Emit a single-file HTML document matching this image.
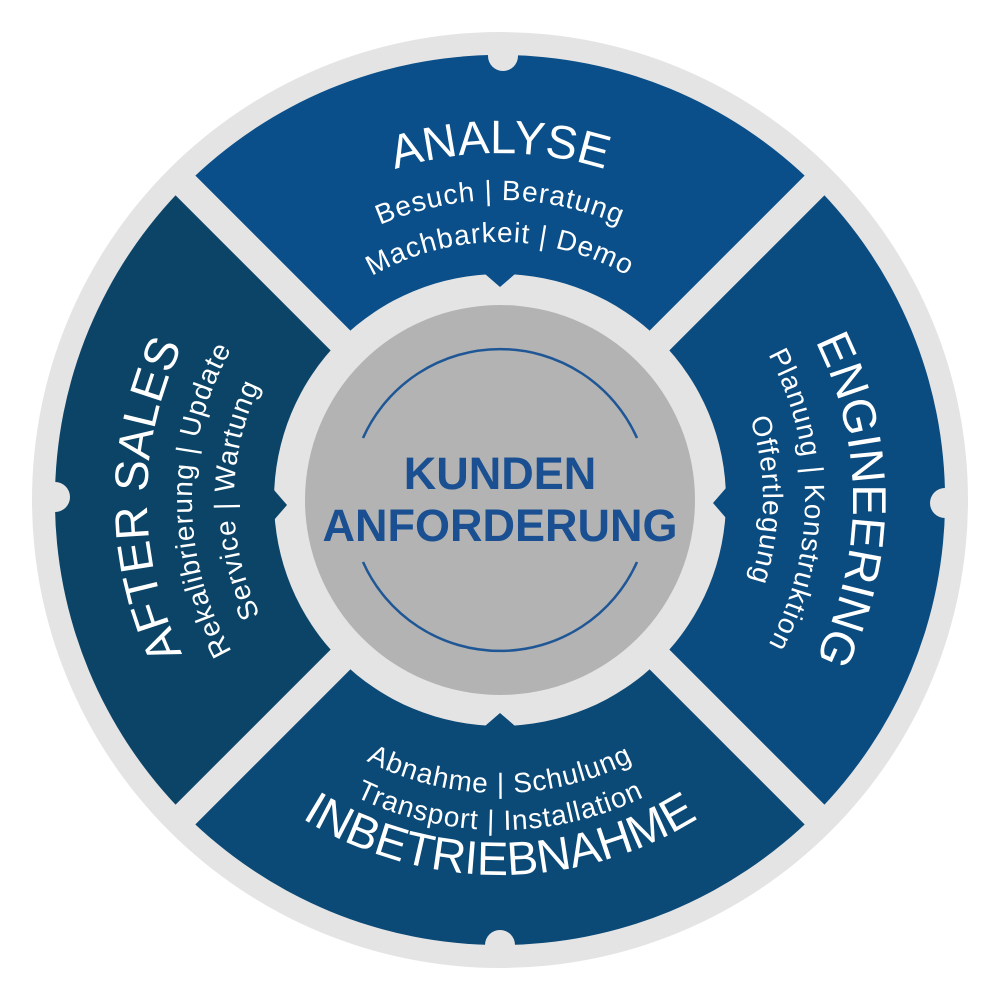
<!DOCTYPE html>
<html><head><meta charset="utf-8"><style>
html,body{margin:0;padding:0;background:#fff;width:1000px;height:1000px;overflow:hidden}
svg{display:block}
text{font-family:"Liberation Sans",Arial,sans-serif;fill:#fff}
.t{font-size:47px}
.s{font-size:28px;letter-spacing:1px}
</style></head><body>
<svg width="1000" height="1000" viewBox="0 0 1000 1000" xmlns="http://www.w3.org/2000/svg">
<defs>
<path id="top347" d="M153,500 A347,347 0 0 1 847,500"/>
<path id="top300" d="M200,500 A300,300 0 0 1 800,500"/>
<path id="top258" d="M242,500 A258,258 0 0 1 758,500"/>
<path id="r353" d="M500,147 A353,353 0 0 1 500,853"/>
<path id="r305" d="M500,195 A305,305 0 0 1 500,805"/>
<path id="r263" d="M500,237 A263,263 0 0 1 500,763"/>
<path id="l353" d="M500,853 A353,353 0 0 1 500,147"/>
<path id="l308" d="M500,808 A308,308 0 0 1 500,192"/>
<path id="l266" d="M500,766 A266,266 0 0 1 500,234"/>
<path id="b293" d="M207,500 A293,293 0 0 0 793,500"/>
<path id="b330" d="M170,500 A330,330 0 0 0 830,500"/>
<path id="b375" d="M125,500 A375,375 0 0 0 875,500"/>
</defs>
<circle cx="500" cy="500" r="468" fill="#e4e4e4"/>
<path d="M185.3,185.3 A445,445 0 0 1 814.7,185.3 L500,500 Z" fill="#0a4f89"/>
<path d="M814.7,185.3 A445,445 0 0 1 814.7,814.7 L500,500 Z" fill="#0a4b80"/>
<path d="M814.7,814.7 A445,445 0 0 1 185.3,814.7 L500,500 Z" fill="#0b4976"/>
<path d="M185.3,814.7 A445,445 0 0 1 185.3,185.3 L500,500 Z" fill="#0b4467"/>
<line x1="172" y1="172" x2="828" y2="828" stroke="#e4e4e4" stroke-width="28"/>
<line x1="828" y1="172" x2="172" y2="828" stroke="#e4e4e4" stroke-width="28"/>
<circle cx="500" cy="500" r="226" fill="#e4e4e4"/>
<polygon points="485,274 515,274 500,287" fill="#0a4f89"/>
<polygon points="726,488 726,518 713,503" fill="#0a4b80"/>
<polygon points="485,726 515,726 500,713" fill="#0b4976"/>
<polygon points="274,490 274,520 287,505" fill="#0b4467"/>
<circle cx="503" cy="56" r="15" fill="#e4e4e4"/>
<circle cx="945" cy="503" r="15" fill="#e4e4e4"/>
<circle cx="500" cy="945" r="15" fill="#e4e4e4"/>
<circle cx="55" cy="497" r="15" fill="#e4e4e4"/>
<circle cx="500" cy="500" r="195" fill="#b3b3b3"/>
<path d="M363,438 A150,150 0 0 1 637,438" fill="none" stroke="#1f5796" stroke-width="2.5"/>
<path d="M363,562 A150,150 0 0 0 637,562" fill="none" stroke="#1f5796" stroke-width="2.5"/>
<text x="500" y="489" text-anchor="middle" style="font-size:45px;font-weight:bold;fill:#1a4f92">KUNDEN</text>
<text x="500" y="541" text-anchor="middle" style="font-size:45px;font-weight:bold;fill:#1a4f92">ANFORDERUNG</text>
<text class="t"><textPath href="#top347" startOffset="50%" text-anchor="middle">ANALYSE</textPath></text>
<text class="s"><textPath href="#top300" startOffset="50%" text-anchor="middle">Besuch | Beratung</textPath></text>
<text class="s"><textPath href="#top258" startOffset="50%" text-anchor="middle">Machbarkeit | Demo</textPath></text>
<text class="t"><textPath href="#r353" startOffset="50%" text-anchor="middle">ENGINEERING</textPath></text>
<text class="s"><textPath href="#r305" startOffset="50%" text-anchor="middle">Planung | Konstruktion</textPath></text>
<text class="s"><textPath href="#r263" startOffset="50%" text-anchor="middle">Offertlegung</textPath></text>
<text class="t"><textPath href="#l353" startOffset="50%" text-anchor="middle">AFTER SALES</textPath></text>
<text class="s"><textPath href="#l308" startOffset="50%" text-anchor="middle">Rekalibrierung | Update</textPath></text>
<text class="s"><textPath href="#l266" startOffset="50%" text-anchor="middle">Service | Wartung</textPath></text>
<text class="s"><textPath href="#b293" startOffset="50%" text-anchor="middle">Abnahme | Schulung</textPath></text>
<text class="s"><textPath href="#b330" startOffset="50%" text-anchor="middle">Transport | Installation</textPath></text>
<text class="t"><textPath href="#b375" startOffset="50%" text-anchor="middle">INBETRIEBNAHME</textPath></text>
</svg>
</body></html>
